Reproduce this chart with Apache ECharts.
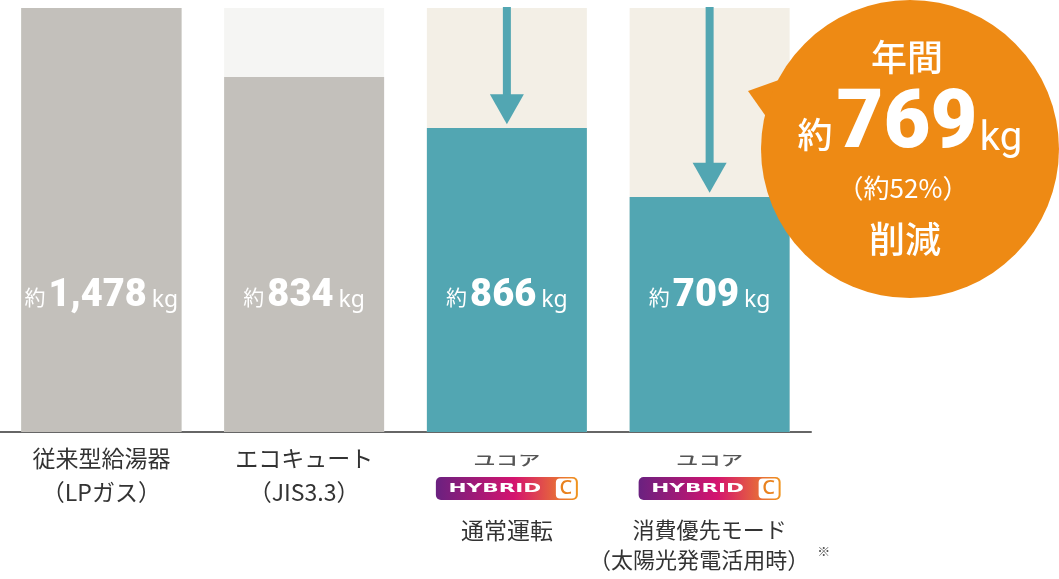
<!DOCTYPE html>
<html>
<head>
<meta charset="utf-8">
<title>CO2排出量の比較</title>
<script src="https://cdn.jsdelivr.net/npm/echarts@6/dist/echarts.min.js"></script>
<style>
    html, body { margin: 0; padding: 0; background: #fff; }
    #main { width: 1059px; height: 579px; }
</style>
</head>
<body>
<div id="main"></div>
<script type="text/javascript">
// 区分
var categories = ['従来型給湯器', 'エコキュート', '通常運転', '消費優先モード'];
var subLabels = ['（LPガス）', '（JIS3.3）', '', '（太陽光発電活用時）'];
// 棒の中の数値 (kg)
var amounts = ['1,478', '834', '866', '709'];
// 図の棒の高さ（イラスト用なので実値に比例しない）
var heights = [100, 83.7, 71.7, 55.4];
var fullHeights = [100, 100, 100, 100];
var barColors = ['#c3c0bb', '#c3c0bb', '#52a6b2', '#52a6b2'];
var bgColors = ['#c3c0bb', '#f5f5f3', '#f3efe6', '#f3efe6'];
// 矢印: [区分, 始点, 先端]
var arrows = [[2, 100, 72.6], [3, 100, 56.4]];
// ユコア HYBRID C のロゴを付ける区分
var brandCats = [[2, 0], [3, 0]];

var JP = '"Noto Sans CJK JP", "Noto Sans", sans-serif';
var ORANGE = '#ee8a14';
var TEAL = '#52a6b2';

var myChart = echarts.init(document.getElementById('main'));

// 吹き出しの部品（系列より前面に出すため z を個別に付ける）
var bubble = [
    { type: 'polygon', shape: { points: [[748, 91], [790, 76], [772, 125]] }, style: { fill: ORANGE } },
    { type: 'circle', shape: { cx: 910, cy: 149, r: 149 }, style: { fill: ORANGE } },
    { type: 'text', x: 907, y: 57, style: { text: '年間', fill: '#fff', font: '500 36px ' + JP, textAlign: 'center', textVerticalAlign: 'middle' } },
    { type: 'text', x: 815, y: 135, style: { text: '約', fill: '#fff', font: '500 35px ' + JP, textAlign: 'center', textVerticalAlign: 'middle' } },
    { type: 'text', x: 907, y: 127, style: { text: '769', fill: '#fff', font: '900 81px Roboto, sans-serif', textAlign: 'center', textVerticalAlign: 'middle' } },
    { type: 'text', x: 1001, y: 140, style: { text: 'kg', fill: '#fff', font: '400 40px Roboto, sans-serif', textAlign: 'center', textVerticalAlign: 'middle' } },
    { type: 'text', x: 903, y: 188, style: { text: '（約52%）', fill: '#fff', font: '400 26px ' + JP, textAlign: 'center', textVerticalAlign: 'middle' } },
    { type: 'text', x: 905, y: 239, style: { text: '削減', fill: '#fff', font: '500 36px ' + JP, textAlign: 'center', textVerticalAlign: 'middle' } }
];
bubble.forEach(function (el) { el.z = 100; });

var option = {
    animation: false,
    grid: { left: 0, top: 8, width: 811, bottom: 147 },
    xAxis: {
        type: 'category',
        data: categories,
        axisTick: { show: false },
        axisLine: { lineStyle: { color: '#666', width: 2 } },
        axisLabel: {
            interval: 0,
            margin: 9,
            color: '#333',
            fontSize: 23,
            fontFamily: JP,
            lineHeight: 34,
            formatter: function (value, idx) {
                var hasBrand = brandCats.some(function (b) { return b[0] === idx; });
                if (!hasBrand) {
                    return value + '\n' + subLabels[idx];
                }
                if (!subLabels[idx]) {
                    return '{sp| }\n' + value;
                }
                return '{sp2| }\n{t|' + value + '}\n{t|' + subLabels[idx] + '}{note|※}';
            },
            rich: {
                sp: { lineHeight: 72, fontSize: 10 },
                sp2: { lineHeight: 76, fontSize: 10 },
                t: { fontSize: 22, lineHeight: 26, color: '#333', fontFamily: JP },
                note: { fontSize: 13, color: '#555', verticalAlign: 'top', padding: [2, 0, 0, 8], fontFamily: JP }
            }
        }
    },
    yAxis: { type: 'value', min: 0, max: 100, show: false },
    graphic: bubble,
    series: [
        {
            // 背景の棒
            type: 'bar',
            barWidth: 160,
            barGap: '-100%',
            silent: true,
            data: fullHeights.map(function (v, i) {
                return { value: v, itemStyle: { color: bgColors[i] } };
            })
        },
        {
            type: 'bar',
            barWidth: 160,
            data: heights.map(function (v, i) {
                return { value: v, itemStyle: { color: barColors[i] } };
            }),
            label: {
                show: true,
                position: 'insideBottom',
                distance: 117,
                formatter: function (p) {
                    return '{y|約}{n|' + amounts[p.dataIndex] + '}{u|kg}';
                },
                rich: {
                    y: { fontSize: 21, color: '#fff', fontFamily: JP, verticalAlign: 'bottom', padding: [0, 3, 7, 0] },
                    n: { fontSize: 38, color: '#fff', fontWeight: 900, fontFamily: 'Roboto, sans-serif', verticalAlign: 'bottom' },
                    u: { fontSize: 23, color: '#fff', fontFamily: '"Noto Sans", sans-serif', verticalAlign: 'bottom', padding: [0, 0, 3, 5] }
                }
            }
        },
        {
            // 矢印
            type: 'custom',
            data: arrows,
            encode: { x: 0, y: [1, 2] },
            z: 5,
            renderItem: function (params, api) {
                var top = api.coord([api.value(0), api.value(1)]);
                var tip = api.coord([api.value(0), api.value(2)]);
                var headH = 30, headW = 34, shaft = 8;
                return {
                    type: 'group',
                    children: [
                        { type: 'rect', shape: { x: top[0] - shaft / 2, y: top[1] - 1, width: shaft, height: tip[1] - headH - top[1] + 2 }, style: { fill: TEAL } },
                        { type: 'polygon', shape: { points: [[tip[0] - headW / 2, tip[1] - headH], [tip[0] + headW / 2, tip[1] - headH], [tip[0], tip[1]]] }, style: { fill: TEAL } }
                    ]
                };
            }
        },
        {
            // ユコア HYBRID C ロゴ
            type: 'custom',
            data: brandCats,
            encode: { x: 0, y: 1 },
            clip: false,
            silent: true,
            renderItem: function (params, api) {
                var p = api.coord([api.value(0), api.value(1)]);
                var c = p[0], y0 = p[1];
                var grad = new echarts.graphic.LinearGradient(0, 0, 1, 0, [
                    { offset: 0, color: '#6a2180' },
                    { offset: 0.55, color: '#d4136f' },
                    { offset: 1, color: '#f0951f' }
                ]);
                return {
                    type: 'group',
                    children: [
                        { type: 'text', x: c, y: y0 + 28, scaleX: 1.6, style: { text: 'ユコア', fill: '#555', font: '500 14px ' + JP, textAlign: 'center', textVerticalAlign: 'middle' } },
                        { type: 'rect', shape: { x: c - 71, y: y0 + 45, width: 142, height: 23, r: 5 }, style: { fill: grad } },
                        { type: 'rect', shape: { x: c + 49, y: y0 + 46.5, width: 20, height: 20, r: 4 }, style: { fill: '#fff' } },
                        { type: 'text', x: c + 59, y: y0 + 56.5, style: { text: 'C', fill: '#e9821f', font: '500 20px "Noto Sans", sans-serif', textAlign: 'center', textVerticalAlign: 'middle' } },
                        { type: 'text', x: c - 12, y: y0 + 56.5, scaleX: 1.8, style: { text: 'HYBRID', fill: '#fff', font: 'bold 12px "DejaVu Sans", sans-serif', textAlign: 'center', textVerticalAlign: 'middle' } }
                    ]
                };
            }
        }
    ]
};

myChart.setOption(option);
</script>
</body>
</html>
